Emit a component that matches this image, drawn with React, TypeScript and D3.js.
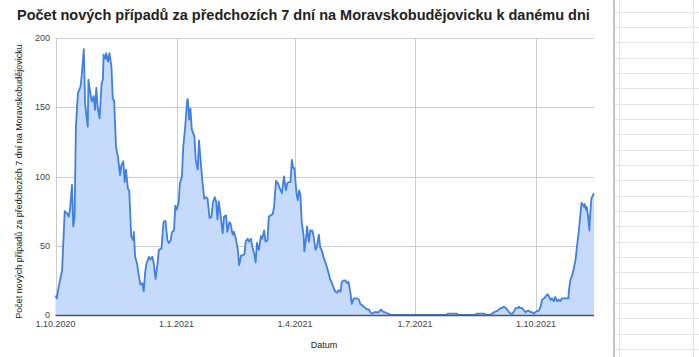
import React from "react";
import * as d3 from "d3";

const START = Date.UTC(2020, 9, 1);

// [day offset from 1.10.2020, cases in previous 7 days]
const wave1: [number, number][] = [
  [0, 14], [1, 12], [2, 18], [4, 28], [5, 32], [7, 75], [9, 73], [10, 71], [11, 76], [12.5, 94],
  [13.5, 64], [14.5, 71], [15.5, 136], [17, 160], [19, 165], [20, 174], [21.5, 192], [22.5, 152],
  [24.5, 136], [25, 170], [26.5, 160], [27.5, 154], [29, 158], [30, 148], [31, 164], [32, 150],
  [33.5, 142], [35, 167], [36, 170], [36.5, 188], [38, 185], [38.5, 189], [40, 183], [41, 189],
  [42.5, 179], [43.5, 156], [44.5, 155], [46, 121], [47.5, 114], [49, 101], [50, 108], [51.5, 111],
  [52.5, 96], [53.5, 105], [55, 91], [56, 90], [57.5, 57], [59, 54], [59.5, 60], [60.5, 42], [62, 37],
  [63, 30], [64.5, 22], [66, 23], [67, 17], [68, 30], [69, 37], [71, 42], [72, 40], [73.5, 42],
  [74.5, 38], [76, 26], [77.5, 37], [78.5, 47], [80.5, 48], [82, 67], [83.5, 68], [85, 54], [86, 52],
  [87.5, 54], [88.5, 60], [90, 61],
];

const wave2: [number, number][] = [
  [91, 79], [92, 76], [93.5, 81], [94.5, 95], [96, 100], [97, 121], [98.5, 136], [100, 155],
  [100.5, 156], [101.5, 141], [102.5, 149], [103.5, 134], [105.5, 129], [106.5, 112], [108, 105],
  [109, 126], [110, 114], [111.5, 97], [113, 84], [114.5, 85], [115.5, 84], [117, 70], [118.5, 71],
  [119.5, 81], [121, 85], [122, 82], [123, 69], [124, 82], [125, 75], [127, 59], [128, 71],
  [129.5, 72], [130.5, 60], [132, 67], [133, 66], [134.5, 58], [135.5, 60], [137, 55], [138.5, 47],
  [139.5, 36], [141, 43], [142, 43], [143.5, 44], [144.5, 53], [146, 55], [147, 53], [148.5, 55],
  [149.5, 49], [151, 44], [152, 38], [153, 52], [154.5, 47], [156, 57], [157, 55], [158.5, 61],
  [159.5, 53], [161, 54], [162, 71], [163.5, 72], [165, 73], [166, 78], [167.5, 97], [169, 95],
  [170.5, 91], [172, 88], [173.5, 100], [175, 90], [176, 95], [177, 96], [178.5, 96],
];

const wave3: [number, number][] = [
  [179.5, 112], [180.5, 106], [181.5, 106], [183, 88], [184, 83], [185, 90], [186, 87], [187, 67],
  [188.5, 57], [189, 46], [190.5, 57], [191, 64], [192.5, 53], [193.5, 61], [195, 61], [196, 57],
  [197.5, 47], [198.5, 49], [200, 58], [201, 49], [202.5, 46], [203.5, 42], [205, 38], [206, 35],
  [207.5, 30], [208.5, 26], [210, 23], [211.5, 19], [212.5, 17], [214, 16], [215, 18], [216.5, 17],
  [217.5, 24], [219, 25], [220, 25], [221.5, 23], [222.5, 24], [224, 16], [225, 8], [226.5, 12],
  [228, 12], [229, 12], [230.5, 11], [231.5, 8], [233, 7], [234, 6], [235.5, 5], [236.5, 4], [238, 4],
  [239, 2], [240.5, 1], [242, 2], [243, 2], [244, 2], [245.5, 2], [247, 4], [248, 3], [249.5, 2],
  [250.5, 2], [252, 1], [253, 1], [254.5, 0],
];

const wave4: [number, number][] = [
  [297, 0], [298, 1], [305, 1], [306, 0], [319, 0], [320, 1], [326, 1], [327, 0], [330, 0], [333, 2],
  [335.5, 3], [338, 5], [339, 5], [340.5, 6], [342, 5], [343, 4], [344.5, 2], [345.5, 1], [347, 1],
  [348, 2], [349.5, 5], [351, 5], [352, 6], [353, 5], [354.5, 5], [356, 3], [357, 2], [358.5, 3],
  [359.5, 3], [361, 2], [362, 2], [363.5, 1], [364.5, 2], [366, 3], [367, 3], [368.5, 6], [369.5, 11],
  [371, 12], [372, 13], [373.5, 15], [374.5, 14], [376, 11], [377, 12], [378.5, 10], [379.5, 13],
  [381, 10], [382, 11], [383.5, 10], [384.5, 12], [386, 12], [387, 12], [388.5, 12], [389.5, 12],
  [390, 18], [391, 25], [392.5, 29], [393.5, 33], [395, 40], [396, 49], [397.5, 61], [399, 76],
  [399.5, 81], [401, 79], [401.5, 78], [402, 80], [403, 76], [403.5, 78], [404.5, 71], [405.5, 61],
  [406, 71], [407, 84], [409, 88],
];

const tickDates = ["2020-10-01", "2021-01-01", "2021-04-01", "2021-07-01", "2021-10-01"];
const tickLabels = ["1.10.2020", "1.1.2021", "1.4.2021", "1.7.2021", "1.10.2021"];
const yTicks = [0, 50, 100, 150, 200];

const TITLE = "Počet nových případů za předchozích 7 dní na Moravskobudějovicku k danému dni";
const Y_TITLE = "Počet nových případů za předchozích 7 dní na Moravskobudějovicku";
const X_TITLE = "Datum";

const W = 699;
const H = 357;
const FONT = "Arial, 'Liberation Sans', sans-serif";

export default function App() {
  const data = [...wave1, ...wave2, ...wave3, ...wave4].map(([d, v]) => ({
    date: new Date(START + d * 864e5),
    value: v,
  }));

  const left = 55.5, right = 594, top = 38, bottom = 315;
  const x = d3.scaleUtc().domain(d3.extent(data, (d) => d.date) as [Date, Date]).range([left, right]);
  const y = d3.scaleLinear().domain([0, 200]).range([bottom, top]);

  const area = d3.area<{ date: Date; value: number }>()
    .x((d) => x(d.date))
    .y0(bottom)
    .y1((d) => y(d.value));
  const line = d3.line<{ date: Date; value: number }>()
    .x((d) => x(d.date))
    .y((d) => y(d.value));

  const ticks = tickDates.map((s, i) => ({ x: x(new Date(s + "T00:00:00Z")), label: tickLabels[i] }));

  // spreadsheet background on the right
  const sheetRows = d3.range(0, 24).map((i) => 11.7 + i * 15.33);

  return (
    <svg width={W} height={H} style={{ position: "absolute", left: 0, top: 0, background: "#fff" }} fontFamily={FONT}>
      <rect x={0} y={0} width={W} height={H} fill="#fff" />
      {/* sheet cells */}
      {sheetRows.map((yy, i) => (
        <line key={i} x1={614} x2={W} y1={Math.round(yy) + 0.5} y2={Math.round(yy) + 0.5} stroke="#e3e3e3" strokeWidth={1} />
      ))}
      <line x1={619.5} x2={619.5} y1={0} y2={H} stroke="#e3e3e3" />
      <line x1={693.5} x2={693.5} y1={0} y2={H} stroke="#e3e3e3" />
      <line x1={614} x2={614} y1={0} y2={H} stroke="#c4c4c4" strokeWidth={2} />

      {/* title */}
      <text x={17} y={20} fontSize={14.5} fontWeight="bold" fill="#222">{TITLE}</text>

      {/* gridlines */}
      {yTicks.filter((t) => t > 0).map((t) => (
        <line key={t} x1={left} x2={right} y1={Math.round(y(t)) + 0.5} y2={Math.round(y(t)) + 0.5} stroke="#cccccc" />
      ))}
      {ticks.map((t) => (
        <line key={t.label} x1={Math.round(t.x) + 0.5} x2={Math.round(t.x) + 0.5} y1={top} y2={bottom} stroke="#cccccc" />
      ))}

      {/* area + line */}
      <path d={area(data) || ""} fill="#c6dafc" />
      <path d={line(data) || ""} fill="none" stroke="#3f7fe6" strokeWidth={1.8} strokeLinejoin="round" />

      {/* baseline */}
      <line x1={left} x2={right} y1={bottom + 0.5} y2={bottom + 0.5} stroke="#555" strokeWidth={1.5} />

      {/* y tick labels */}
      {yTicks.map((t) => (
        <text key={t} x={50} y={y(t) + 3.2} fontSize={9} fill="#444" textAnchor="end">{t}</text>
      ))}
      {/* x tick labels */}
      {ticks.map((t) => (
        <text key={t.label} x={t.x} y={327} fontSize={9} fill="#444" textAnchor="middle">{t.label}</text>
      ))}

      <text x={324} y={348} fontSize={9} fill="#222" textAnchor="middle">{X_TITLE}</text>
      <text transform={`translate(22, 181.5) rotate(-90)`} fontSize={9} fill="#222" textAnchor="middle">{Y_TITLE}</text>
    </svg>
  );
}
